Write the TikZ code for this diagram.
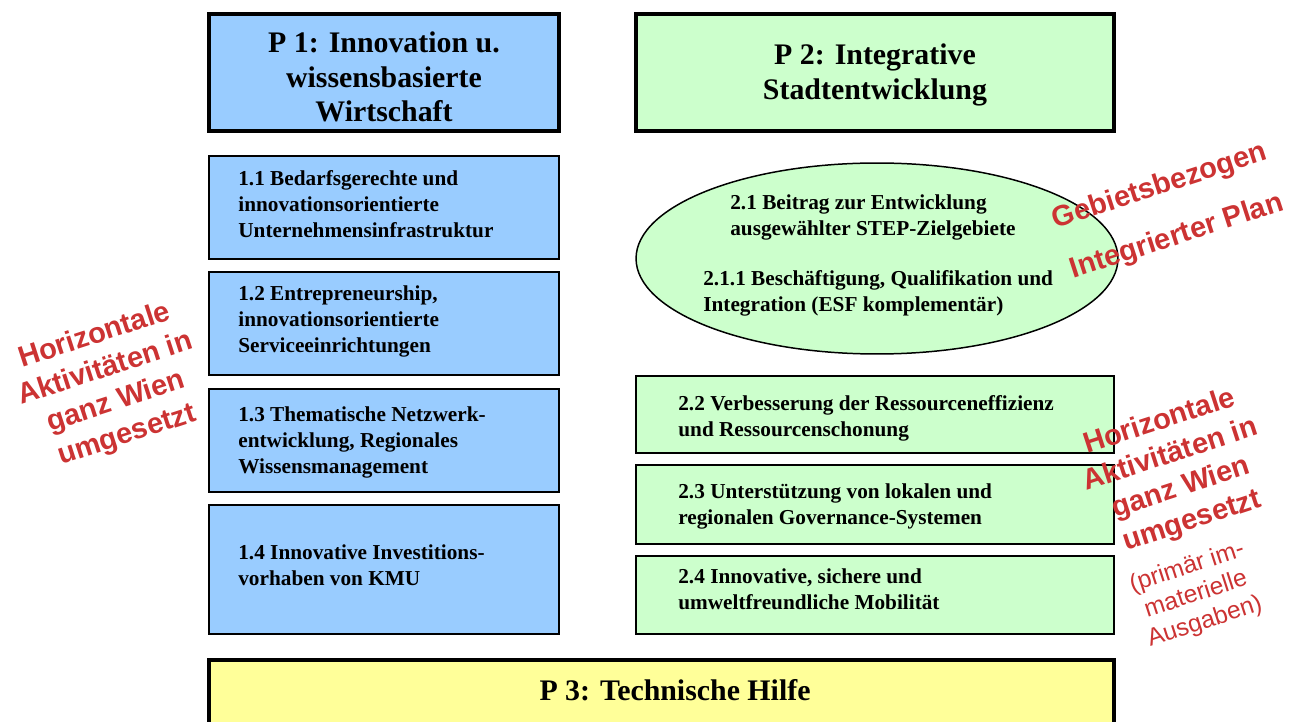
\documentclass[tikz,border=0pt]{standalone}
\usepackage{fontspec}
\setmainfont{Liberation Serif}
\newfontfamily\arialf{Liberation Sans}
\usetikzlibrary{shapes.geometric}
\definecolor{pblue}{HTML}{99CCFF}
\definecolor{pgreen}{HTML}{CCFFCC}
\definecolor{pyellow}{HTML}{FFFF99}
\definecolor{redt}{RGB}{204,51,51}
\begin{document}
\begin{tikzpicture}[x=0.02cm,y=-0.02cm,
  titlebox/.style={draw=black, line width=2.3pt, inner sep=0pt},
  titletext/.style={font=\fontsize{17}{19.8}\selectfont\bfseries, align=center, inner sep=0pt},
  subbox/.style={draw=black, line width=0.85pt, inner sep=0pt},
  lbox/.style={subbox, fill=pblue, minimum width=7cm},
  rbox/.style={subbox, fill=pgreen, minimum width=9.56cm},
  subtext/.style={font=\fontsize{12.1}{14.8}\selectfont\bfseries, align=left, inner sep=0pt, anchor=west},
  redbold/.style={text=redt, font=\arialf\fontsize{16.5}{19.8}\selectfont\bfseries, align=center, rotate=18, inner sep=0pt},
  redreg/.style={text=redt, font=\arialf\fontsize{14}{16.3}\selectfont, align=center, rotate=18, inner sep=0pt}]
\clip (0,0) rectangle (1290,722);
\fill[white] (0,0) rectangle (1290,722);

% titles
\node[titlebox, fill=pblue, minimum width=7cm, minimum height=2.34cm] (p1) at (384,72.5) {};
\node[titletext] (p1t) at (384,77) {P 1: Innovation u.\\ wissensbasierte\\ Wirtschaft};
\node[titlebox, fill=pgreen, minimum width=9.56cm, minimum height=2.34cm] (p2) at (875,72.5) {};
\node[titletext] (p2t) at (875,75) {P 2: Integrative\\ Stadtentwicklung};

% left column
\node[lbox, minimum height=2.06cm] (b11) at (384,207.5) {};
\node[subtext] (t11) at (238,204) {1.1 Bedarfsgerechte und\\ innovationsorientierte\\ Unternehmensinfrastruktur};
\node[lbox, minimum height=2.06cm] (b12) at (384,323.5) {};
\node[subtext] (t12) at (238,321) {1.2 Entrepreneurship,\\ innovationsorientierte\\ Serviceeinrichtungen};
\node[lbox, minimum height=2.06cm] (b13) at (384,440.5) {};
\node[subtext] (t13) at (238,442) {1.3 Thematische Netzwerk-\\ entwicklung, Regionales\\ Wissensmanagement};
\node[lbox, minimum height=2.58cm] (b14) at (384,569.5) {};
\node[subtext] (t14) at (238,565) {1.4 Innovative Investitions-\\ vorhaben von KMU};

% right column
\node[ellipse, draw=black, line width=0.85pt, fill=pgreen, minimum width=9.64cm, minimum height=3.82cm, inner sep=0pt] (e21) at (877,258.5) {};
\node[subtext] (t21) at (730,217) {2.1 Beitrag zur Entwicklung\\ ausgewählter STEP-Zielgebiete};
\node[subtext] (t211) at (703,293.5) {2.1.1 Beschäftigung, Qualifikation und\\ Integration (ESF komplementär)};

\node[rbox, minimum height=1.54cm] (b22) at (875,414.5) {};
\node[subtext] (t22) at (678,418) {2.2 Verbesserung der Ressourceneffizienz\\ und Ressourcenschonung};
\node[rbox, minimum height=1.58cm] (b23) at (875,504.5) {};
\node[subtext] (t23) at (678,506) {2.3 Unterstützung von lokalen und\\ regionalen Governance-Systemen};
\node[rbox, minimum height=1.56cm] (b24) at (875,595) {};
\node[subtext] (t24) at (678,589) {2.4 Innovative, sichere und\\ umweltfreundliche Mobilität};

% P3
\node[titlebox, fill=pyellow, minimum width=18.1cm, minimum height=2cm] (p3) at (661.5,710) {};
\node[titletext] (p3t) at (675,690) {P 3: Technische Hilfe};

% red annotations
\node[redbold] (hl) at (111,386) {Horizontale\\ Aktivitäten in\\ ganz Wien\\ umgesetzt};
\node[redbold] (geb) at (1160,187) {Gebietsbezogen};
\node[redbold] (ip) at (1177,237) {Integrierter Plan};
\node[redbold] (hr) at (1176,472) {Horizontale\\ Aktivitäten in\\ ganz Wien\\ umgesetzt};
\node[redreg] (pr) at (1196,595) {(primär im-\\ materielle\\ Ausgaben)};
\end{tikzpicture}
\end{document}
